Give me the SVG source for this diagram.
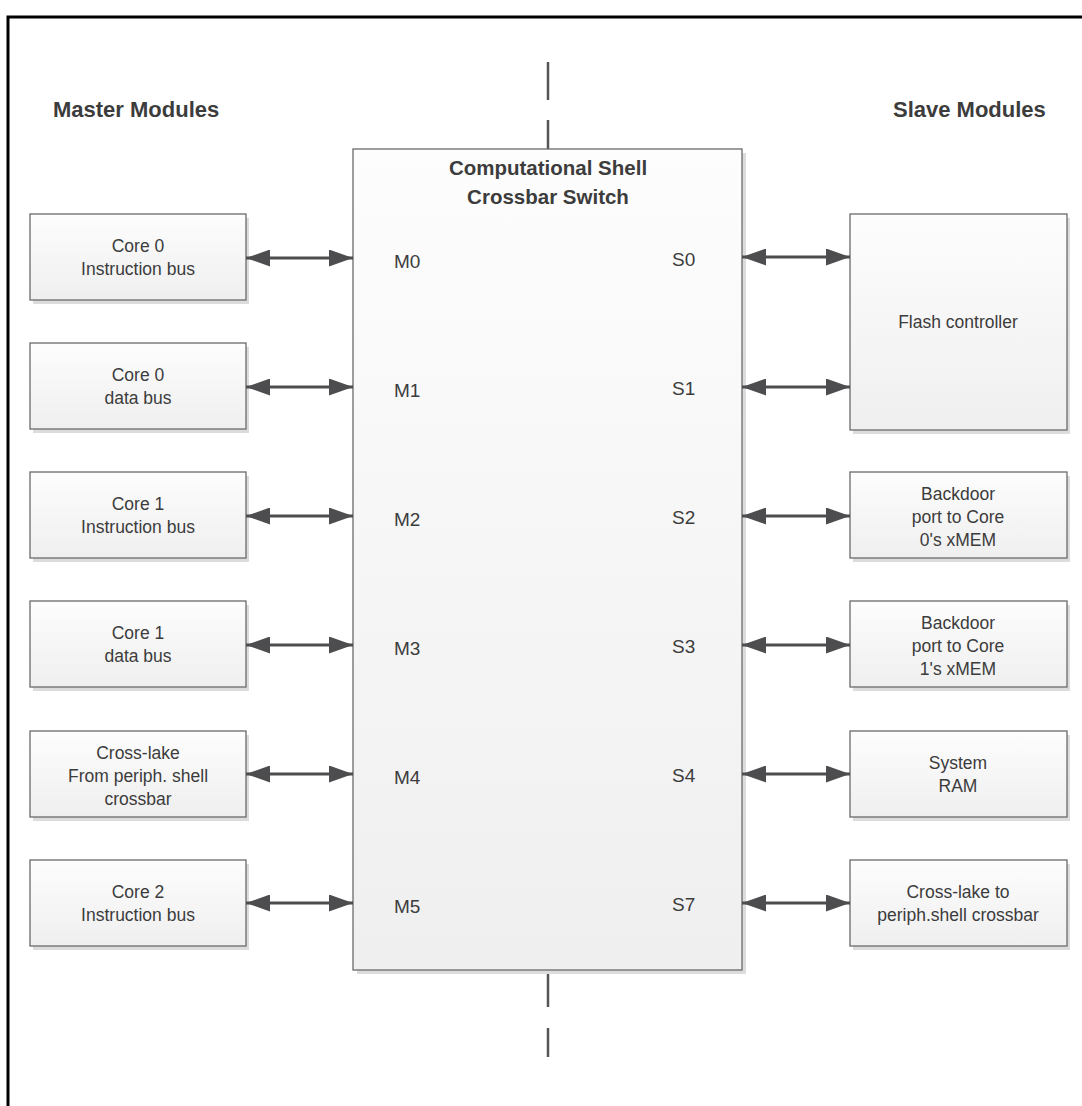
<svg xmlns="http://www.w3.org/2000/svg" width="1082" height="1106" viewBox="0 0 1082 1106">
  <defs>
    <linearGradient id="boxFill" x1="0" y1="0" x2="0" y2="1">
      <stop offset="0" stop-color="#fdfdfd"/>
      <stop offset="1" stop-color="#efeff0"/>
    </linearGradient>
    <marker id="head" viewBox="0 0 24 17" refX="24" refY="8.5" markerWidth="24" markerHeight="17" markerUnits="userSpaceOnUse" orient="auto-start-reverse">
      <path d="M0,0 L24,8.5 L0,17 Z" fill="#4d4d4f"/>
    </marker>
    <style>
      .frame { stroke: #000; stroke-width: 3; fill: none; }
      .shadow { fill: #dcdcdc; }
      .box { fill: url(#boxFill); stroke: #6a6a6a; stroke-width: 1.3; }
      .lbl { font-family: "Liberation Sans", Arial, sans-serif; font-size: 17.5px; fill: #3c3c3c; text-anchor: middle; }
      .port { font-family: "Liberation Sans", Arial, sans-serif; font-size: 19px; fill: #3c3c3c; }
      .head { font-family: "Liberation Sans", Arial, sans-serif; font-size: 20.5px; font-weight: bold; fill: #3c3c3c; }
      .side { font-size: 22px; }
      .link { stroke: #4d4d4f; stroke-width: 3; fill: none; marker-start: url(#head); marker-end: url(#head); }
      .axis { stroke: #555; stroke-width: 2.5; fill: none; }
    </style>
  </defs>

  <!-- page frame -->
  <path class="frame" d="M8,1106 V17 H1082"/>

  <!-- column headings -->
  <text class="head side" x="53" y="117">Master Modules</text>
  <text class="head side" x="893" y="117">Slave Modules</text>

  <!-- dashed centre axis -->
  <g id="axis">
    <line class="axis" x1="548" y1="62" x2="548" y2="100"/>
    <line class="axis" x1="548" y1="120" x2="548" y2="149"/>
    <line class="axis" x1="548" y1="970" x2="548" y2="1007"/>
    <line class="axis" x1="548" y1="1028" x2="548" y2="1057"/>
  </g>

  <!-- crossbar switch -->
  <g id="crossbar">
    <rect class="shadow" x="357" y="153" width="389" height="821"/>
    <rect class="box" x="353" y="149" width="389" height="821"/>
    <text class="head" x="548" y="175" text-anchor="middle">Computational Shell</text>
    <text class="head" x="548" y="204" text-anchor="middle">Crossbar Switch</text>
    <text class="port" x="394" y="268">M0</text>
    <text class="port" x="394" y="397">M1</text>
    <text class="port" x="394" y="526">M2</text>
    <text class="port" x="394" y="655">M3</text>
    <text class="port" x="394" y="784">M4</text>
    <text class="port" x="394" y="913">M5</text>
    <text class="port" x="672" y="266">S0</text>
    <text class="port" x="672" y="395">S1</text>
    <text class="port" x="672" y="524">S2</text>
    <text class="port" x="672" y="653">S3</text>
    <text class="port" x="672" y="782">S4</text>
    <text class="port" x="672" y="911">S7</text>
  </g>

  <!-- master modules -->
  <g id="m0">
    <rect class="shadow" x="33" y="218" width="216" height="86"/>
    <rect class="box" x="30" y="214" width="216" height="86"/>
    <text class="lbl" x="138" y="252">Core 0</text>
    <text class="lbl" x="138" y="275">Instruction bus</text>
  </g>
  <g id="m1">
    <rect class="shadow" x="33" y="347" width="216" height="86"/>
    <rect class="box" x="30" y="343" width="216" height="86"/>
    <text class="lbl" x="138" y="381">Core 0</text>
    <text class="lbl" x="138" y="404">data bus</text>
  </g>
  <g id="m2">
    <rect class="shadow" x="33" y="476" width="216" height="86"/>
    <rect class="box" x="30" y="472" width="216" height="86"/>
    <text class="lbl" x="138" y="510">Core 1</text>
    <text class="lbl" x="138" y="533">Instruction bus</text>
  </g>
  <g id="m3">
    <rect class="shadow" x="33" y="605" width="216" height="86"/>
    <rect class="box" x="30" y="601" width="216" height="86"/>
    <text class="lbl" x="138" y="639">Core 1</text>
    <text class="lbl" x="138" y="662">data bus</text>
  </g>
  <g id="m4">
    <rect class="shadow" x="33" y="735" width="216" height="86"/>
    <rect class="box" x="30" y="731" width="216" height="86"/>
    <text class="lbl" x="138" y="759">Cross-lake</text>
    <text class="lbl" x="138" y="782">From periph. shell</text>
    <text class="lbl" x="138" y="805">crossbar</text>
  </g>
  <g id="m5">
    <rect class="shadow" x="33" y="864" width="216" height="86"/>
    <rect class="box" x="30" y="860" width="216" height="86"/>
    <text class="lbl" x="138" y="898">Core 2</text>
    <text class="lbl" x="138" y="921">Instruction bus</text>
  </g>

  <!-- slave modules -->
  <g id="flash">
    <rect class="shadow" x="853" y="218" width="217" height="216"/>
    <rect class="box" x="850" y="214" width="217" height="216"/>
    <text class="lbl" x="958" y="328">Flash controller</text>
  </g>
  <g id="s2">
    <rect class="shadow" x="853" y="476" width="217" height="86"/>
    <rect class="box" x="850" y="472" width="217" height="86"/>
    <text class="lbl" x="958" y="500">Backdoor</text>
    <text class="lbl" x="958" y="523">port to Core</text>
    <text class="lbl" x="958" y="546">0's xMEM</text>
  </g>
  <g id="s3">
    <rect class="shadow" x="853" y="605" width="217" height="86"/>
    <rect class="box" x="850" y="601" width="217" height="86"/>
    <text class="lbl" x="958" y="629">Backdoor</text>
    <text class="lbl" x="958" y="652">port to Core</text>
    <text class="lbl" x="958" y="675">1's xMEM</text>
  </g>
  <g id="s4">
    <rect class="shadow" x="853" y="735" width="217" height="86"/>
    <rect class="box" x="850" y="731" width="217" height="86"/>
    <text class="lbl" x="958" y="769">System</text>
    <text class="lbl" x="958" y="792">RAM</text>
  </g>
  <g id="s7">
    <rect class="shadow" x="853" y="864" width="217" height="86"/>
    <rect class="box" x="850" y="860" width="217" height="86"/>
    <text class="lbl" x="958" y="898">Cross-lake to</text>
    <text class="lbl" x="958" y="921">periph.shell crossbar</text>
  </g>

  <!-- bidirectional bus links -->
  <g id="links">
    <line class="link" x1="246" y1="258" x2="353" y2="258"/>
    <line class="link" x1="246" y1="387" x2="353" y2="387"/>
    <line class="link" x1="246" y1="516" x2="353" y2="516"/>
    <line class="link" x1="246" y1="645" x2="353" y2="645"/>
    <line class="link" x1="246" y1="774" x2="353" y2="774"/>
    <line class="link" x1="246" y1="903" x2="353" y2="903"/>
    <line class="link" x1="742" y1="257" x2="850" y2="257"/>
    <line class="link" x1="742" y1="387" x2="850" y2="387"/>
    <line class="link" x1="742" y1="516" x2="850" y2="516"/>
    <line class="link" x1="742" y1="645" x2="850" y2="645"/>
    <line class="link" x1="742" y1="774" x2="850" y2="774"/>
    <line class="link" x1="742" y1="903" x2="850" y2="903"/>
  </g>
</svg>
